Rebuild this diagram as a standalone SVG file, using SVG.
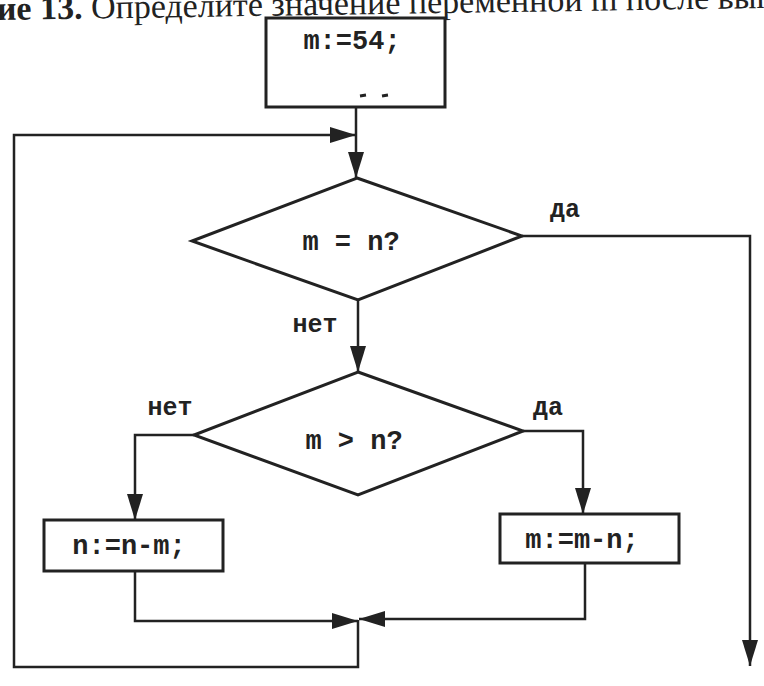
<svg xmlns="http://www.w3.org/2000/svg" width="764" height="686" viewBox="0 0 764 686">
<defs>
<style>
.box{fill:#fff;stroke:#222;stroke-width:3}
.ln{fill:none;stroke:#222;stroke-width:2.5}
.code{font-family:"Liberation Mono","Courier New",monospace;font-weight:bold;font-size:27px;fill:#222;text-anchor:middle}
.lbl{font-family:"Liberation Mono","Courier New",monospace;font-weight:bold;font-size:25px;fill:#222;text-anchor:middle}
.head{font-family:"Liberation Serif","Times New Roman",serif;font-size:34px;fill:#222}
</style>
<marker id="arr" viewBox="0 0 26 16" refX="26" refY="8" markerWidth="26" markerHeight="16" orient="auto" markerUnits="userSpaceOnUse">
<path d="M0,0 L26,8 L0,16 z" fill="#222"/>
</marker>
</defs>
<rect width="764" height="686" fill="#fff"/>
<text class="head" x="-3" y="20" transform="rotate(-0.9 0 20)"><tspan font-weight="bold">ие 13.</tspan> Определите значение переменной m после выпол</text>

<g id="connectors">
<path class="ln" d="M356,106 L356,178" marker-end="url(#arr)"/>
<path class="ln" d="M358,620 L358,667 L14,667 L14,135 L356,135" marker-end="url(#arr)"/>
<path class="ln" d="M522,236 L750,236 L750,666" marker-end="url(#arr)"/>
<path class="ln" d="M358,300 L358,372" marker-end="url(#arr)"/>
<path class="ln" d="M194,435 L135,435 L135,520" marker-end="url(#arr)"/>
<path class="ln" d="M523,431 L583,431 L583,514" marker-end="url(#arr)"/>
<path class="ln" d="M135,571 L135,621 L358,621" marker-end="url(#arr)"/>
<path class="ln" d="M585,563 L585,619 L359,619" marker-end="url(#arr)"/>
</g>

<g id="start">
<rect class="box" x="266" y="18" width="179" height="89"/>
<text class="code" x="352" y="49">m:=54;</text>
<path d="M360,96 L366,95 M382,96 L388,95" stroke="#222" stroke-width="3"/>
</g>

<g id="cond1">
<polygon class="box" points="357,178 522,236 358,300 192,241"/>
<text class="code" x="351" y="250">m = n?</text>
<text class="lbl" x="565" y="217">да</text>
<text class="lbl" x="315" y="332">нет</text>
</g>

<g id="cond2">
<polygon class="box" points="358,372 523,431 358,495 194,435"/>
<text class="code" x="354" y="449">m &gt; n?</text>
<text class="lbl" x="170" y="415">нет</text>
<text class="lbl" x="548" y="415">да</text>
</g>

<g id="nbox">
<rect class="box" x="44" y="520" width="179" height="51"/>
<text class="code" x="129" y="554">n:=n-m;</text>
</g>

<g id="mbox">
<rect class="box" x="500" y="514" width="179" height="49"/>
<text class="code" x="582" y="548">m:=m-n;</text>
</g>
</svg>
